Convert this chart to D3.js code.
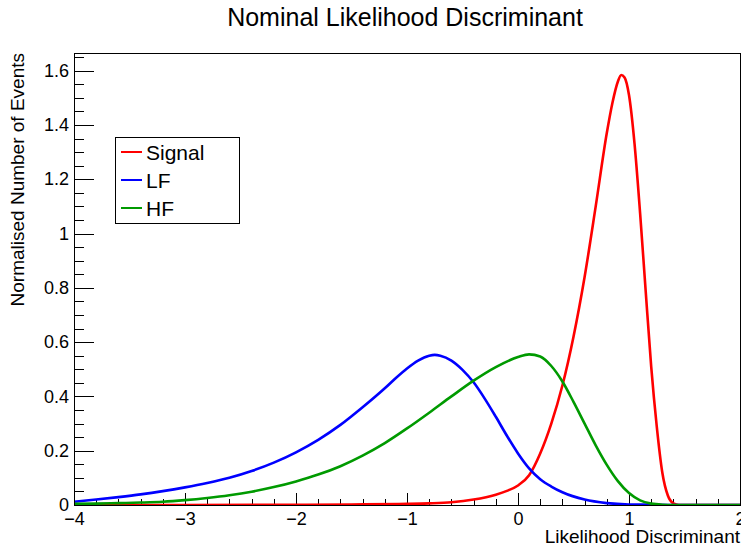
<!DOCTYPE html>
<html>
<head>
<meta charset="utf-8">
<script src="https://cdn.jsdelivr.net/npm/d3@7"></script>
<style>
    body { margin: 0; background: #fff; }
    svg { font-family: "Liberation Sans", Arial, Helvetica, sans-serif; }
    .axis path { display: none; }
    .axis text { font-size: 18px; fill: #000; }
    .curve { fill: none; stroke-width: 2.6; }
</style>
</head>
<body>
<svg id="chart"></svg>
<script>
// values (x = likelihood discriminant, y = normalised events)
const signalX = [-4, -3, -2, -1.5, -1.0, -0.8, -0.6, -0.4, -0.2, -0.1, 0, 0.1, 0.2, 0.3, 0.4, 0.5, 0.6, 0.7, 0.8, 0.85, 0.9, 0.93, 0.96, 1.0, 1.05, 1.1, 1.15, 1.2, 1.25, 1.3, 1.35, 1.4, 1.45, 2];
const signalY = [0, 0, 0.001, 0.002, 0.004, 0.006, 0.01, 0.02, 0.038, 0.052, 0.072, 0.11, 0.19, 0.3, 0.44, 0.62, 0.84, 1.1, 1.37, 1.48, 1.56, 1.584, 1.575, 1.51, 1.33, 1.075, 0.79, 0.51, 0.29, 0.12, 0.035, 0.006, 0, 0];

const lfX = [-4, -3.8, -3.6, -3.4, -3.2, -3.0, -2.8, -2.6, -2.4, -2.2, -2.0, -1.8, -1.6, -1.4, -1.2, -1.1, -1.0, -0.9, -0.8, -0.75, -0.7, -0.6, -0.5, -0.4, -0.3, -0.2, -0.1, 0, 0.1, 0.2, 0.3, 0.4, 0.6, 0.8, 1.0, 1.2, 1.4, 2];
const lfY = [0.012, 0.02, 0.029, 0.039, 0.051, 0.065, 0.081, 0.1, 0.125, 0.156, 0.194, 0.24, 0.295, 0.36, 0.43, 0.468, 0.503, 0.532, 0.55, 0.553, 0.55, 0.532, 0.498, 0.452, 0.392, 0.325, 0.255, 0.19, 0.135, 0.095, 0.068, 0.047, 0.02, 0.007, 0.002, 0.001, 0, 0];

const hfX = [-4, -3.8, -3.6, -3.4, -3.2, -3.0, -2.8, -2.6, -2.4, -2.2, -2.0, -1.8, -1.6, -1.4, -1.2, -1.0, -0.8, -0.6, -0.4, -0.2, 0, 0.1, 0.2, 0.3, 0.4, 0.5, 0.6, 0.7, 0.8, 0.9, 1.0, 1.1, 1.2, 1.3, 1.4, 2];
const hfY = [0.004, 0.005, 0.007, 0.009, 0.012, 0.018, 0.026, 0.036, 0.049, 0.066, 0.087, 0.112, 0.143, 0.182, 0.228, 0.282, 0.34, 0.4, 0.458, 0.508, 0.545, 0.555, 0.547, 0.512, 0.455, 0.38, 0.3, 0.22, 0.148, 0.088, 0.044, 0.017, 0.005, 0.001, 0, 0];

const seriesNames = ['Signal', 'LF', 'HF'];
const seriesColours = ['#ff0000', '#0000ff', '#009a00'];

const xTicks = [-4, -3, -2, -1, 0, 1, 2];
const yTicks = [0, 0.2, 0.4, 0.6, 0.8, 1, 1.2, 1.4, 1.6];

class LikelihoodPlot {
    constructor(config){
        this.parent = config.parent;
        this.width = config.width;
        this.height = config.height;
        this.margin = {top: 53, bottom: 43, left: 74, right: 1};
        this.series = config.series;
        this.initVis();
    }

    initVis(){
        let vis = this;
        vis.widthM = vis.width - vis.margin.left - vis.margin.right;
        vis.heightM = vis.height - vis.margin.top - vis.margin.bottom;

        vis.xScale = d3.scaleLinear().domain([-4, 2]).range([0, vis.widthM]);
        // ROOT leaves 5% headroom above the tallest bin
        vis.yScale = d3.scaleLinear().domain([0, 1.665]).range([vis.heightM, 0]);

        vis.svg = d3.select(vis.parent)
            .attr('width', vis.width)
            .attr('height', vis.height);

        vis.chart = vis.svg.append('g')
            .attr('transform', `translate(${vis.margin.left},${vis.margin.top})`);

        vis.chart.append('clipPath').attr('id', 'plot-clip')
            .append('rect')
            .attr('x', 0).attr('y', 0)
            .attr('width', vis.widthM).attr('height', vis.heightM);
    }

    renderVis(){
        let vis = this;

        // minor ticks first, then major ticks with labels
        let xMinor = d3.range(-4, 2.001, 0.2);
        let yMinor = d3.range(0, 1.66, 0.05);

        vis.chart.append('g')
            .attr('class', 'axis')
            .attr('transform', `translate(0,${vis.heightM})`)
            .call(d3.axisTop(vis.xScale).tickValues(xMinor).tickSize(6).tickFormat(''))
            .selectAll('line').attr('stroke', '#000').attr('shape-rendering', 'crispEdges');

        vis.chart.append('g')
            .attr('class', 'axis')
            .call(d3.axisRight(vis.yScale).tickValues(yMinor).tickSize(10).tickFormat(''))
            .selectAll('line').attr('stroke', '#000').attr('shape-rendering', 'crispEdges');

        vis.chart.append('g')
            .attr('class', 'axis')
            .attr('transform', `translate(0,${vis.heightM})`)
            .call(d3.axisTop(vis.xScale).tickValues(xTicks).tickSize(12).tickFormat(''))
            .selectAll('line').attr('stroke', '#000').attr('shape-rendering', 'crispEdges');

        vis.chart.append('g')
            .attr('class', 'axis')
            .attr('transform', `translate(0,${vis.heightM})`)
            .call(d3.axisBottom(vis.xScale).tickValues(xTicks).tickSize(0).tickPadding(7).tickFormat(d3.format('d')))
            .selectAll('text').attr('dy', '0.71em');

        vis.chart.append('g')
            .attr('class', 'axis')
            .call(d3.axisRight(vis.yScale).tickValues(yTicks).tickSize(20).tickFormat(''))
            .selectAll('line').attr('stroke', '#000').attr('shape-rendering', 'crispEdges');

        vis.chart.append('g')
            .attr('class', 'axis')
            .call(d3.axisLeft(vis.yScale).tickValues(yTicks).tickSize(0).tickPadding(5).tickFormat(d3.format('')));

        // the histograms
        let line = d3.line()
            .x(d => vis.xScale(d[0]))
            .y(d => vis.yScale(d[1]))
            .curve(d3.curveMonotoneX);

        vis.chart.append('g')
            .attr('clip-path', 'url(#plot-clip)')
            .selectAll('.curve')
            .data(vis.series)
            .join('path')
            .attr('class', 'curve')
            .attr('stroke', d => d.colour)
            .attr('d', d => line(d3.zip(d.x, d.y)));

        // frame
        vis.chart.append('rect')
            .attr('x', 0).attr('y', 0)
            .attr('width', vis.widthM).attr('height', vis.heightM)
            .attr('fill', 'none')
            .attr('stroke', '#000')
            .attr('shape-rendering', 'crispEdges');

        // title and axis titles
        vis.svg.append('text')
            .attr('x', 405).attr('y', 26)
            .attr('text-anchor', 'middle')
            .style('font-size', '25px')
            .text('Nominal Likelihood Discriminant');

        vis.svg.append('text')
            .attr('x', vis.width - 1).attr('y', 543)
            .attr('text-anchor', 'end')
            .style('font-size', '19px')
            .text('Likelihood Discriminant');

        vis.svg.append('text')
            .attr('transform', `translate(24,${vis.margin.top}) rotate(-90)`)
            .attr('text-anchor', 'end')
            .style('font-size', '19px')
            .text('Normalised Number of Events');

        // legend
        let legend = vis.svg.append('g').attr('transform', 'translate(115,137)');
        legend.append('rect')
            .attr('width', 124).attr('height', 86)
            .attr('fill', '#fff').attr('stroke', '#000')
            .attr('shape-rendering', 'crispEdges');

        let rows = legend.selectAll('.entry')
            .data(vis.series)
            .join('g')
            .attr('class', 'entry')
            .attr('transform', (d, i) => `translate(0,${15 + i * 28})`);
        rows.append('line')
            .attr('x1', 6).attr('x2', 27)
            .attr('stroke', d => d.colour).attr('stroke-width', 2);
        rows.append('text')
            .attr('x', 31).attr('dy', '0.36em')
            .style('font-size', '21px')
            .text(d => d.name);
    }
}

let plot = new LikelihoodPlot({
    parent: '#chart',
    width: 741,
    height: 548,
    series: [
        {name: seriesNames[0], colour: seriesColours[0], x: signalX, y: signalY},
        {name: seriesNames[1], colour: seriesColours[1], x: lfX, y: lfY},
        {name: seriesNames[2], colour: seriesColours[2], x: hfX, y: hfY}
    ]
});
plot.renderVis();
</script>
</body>
</html>
